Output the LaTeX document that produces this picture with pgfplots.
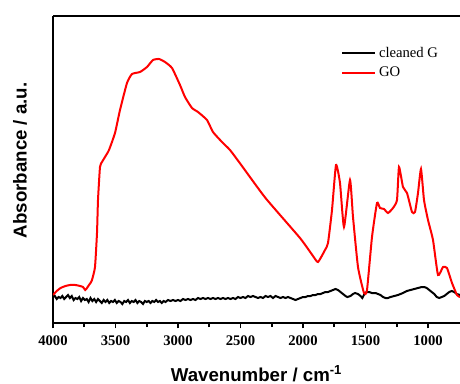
\documentclass[border=0pt]{standalone}
\usepackage{fontspec}
\setmainfont{Liberation Serif}
\setsansfont{Liberation Sans}
\usepackage{pgfplots}
\pgfplotsset{compat=1.18}
\begin{document}
\begin{tikzpicture}
\begin{axis}[
  scale only axis,
  width=305.25pt, height=230.25pt,
  x dir=reverse,
  xmin=744, xmax=4000,
  ymin=0, ymax=307,
  axis x line*=box,
  axis y line*=left,
  axis line style={-, line width=1.5pt},
  xtick={1000,1500,2000,2500,3000,3500,4000},
  minor x tick num=1,
  xtick pos=bottom,
  ytick=\empty,
  tick align=outside,
  major tick length=4pt,
  minor tick length=3pt,
  every tick/.style={line width=1.2pt, black},
  /pgf/number format/1000 sep={},
  /pgf/number format/assume math mode=true,
  xticklabel style={font=\fontsize{11}{11}\selectfont\bfseries, yshift=-2pt},
  xlabel={Wavenumber / cm\textsuperscript{-1}},
  ylabel={Absorbance / a.u.},
  every axis x label/.style={at={(rel axis cs:0.5,0)}, anchor=base, yshift=-43.5pt, font=\fontsize{14}{14}\selectfont\sffamily\bfseries},
  every axis y label/.style={at={(rel axis cs:0,0.53)}, rotate=90, anchor=center, yshift=24.75pt, font=\fontsize{14}{14}\selectfont\sffamily\bfseries},
  legend style={at={(rel axis cs:0.707,0.909)}, anchor=north west, draw=none, fill=none, inner sep=0pt, row sep=2pt, font=\fontsize{11}{12}\selectfont},
  legend cell align=left,
  legend image code/.code={\draw[#1] (0pt,0pt) -- (25pt,0pt);},
]
\addplot[black, line width=1.5pt] coordinates {
(4000,26) (3985,27) (3970,24) (3955,26) (3940,25) (3925,27) (3910,24) (3895,26) (3880,28) (3865,25)
(3850,27) (3835,23) (3820,25) (3805,24) (3790,26) (3775,22) (3760,25) (3745,23) (3730,24) (3715,21)
(3700,25) (3685,22) (3670,24) (3655,21) (3640,24) (3625,22) (3610,20) (3595,23) (3580,21) (3565,23)
(3550,20) (3535,22) (3520,21) (3505,23) (3490,20) (3475,22) (3460,21) (3445,19) (3430,22) (3415,21)
(3400,23) (3385,20) (3370,22) (3355,21) (3340,23) (3325,20) (3310,22) (3295,21) (3280,19) (3265,22)
(3250,21) (3235,22) (3220,20) (3205,22) (3190,21) (3175,23) (3160,21) (3145,22) (3130,20) (3115,22)
(3100,21) (3080,23) (3060,22) (3040,23) (3020,22) (3000,23) (2980,22) (2960,24) (2940,23) (2920,24)
(2900,23) (2880,24) (2860,23) (2840,25) (2820,24) (2800,25) (2780,24) (2760,25) (2740,24) (2720,25)
(2700,24) (2680,25) (2660,24) (2640,25) (2620,24) (2600,25) (2580,24) (2560,25) (2540,24) (2520,26)
(2500,25) (2480,26) (2460,25) (2440,27) (2420,26) (2400,27) (2380,26) (2360,25) (2340,26) (2320,25)
(2300,27) (2280,26) (2260,27) (2240,25) (2220,27) (2200,26) (2180,25) (2160,26) (2140,25) (2120,26)
(2100,25) (2080,24) (2060,23) (2040,24) (2020,25) (2000,26) (1980,26) (1960,27) (1940,27) (1920,28)
(1900,28) (1880,29) (1860,29) (1840,30) (1820,31) (1800,31) (1780,32) (1760,33) (1740,34) (1720,33)
(1700,31) (1680,29) (1660,27) (1645,26) (1620,27) (1600,29) (1584,30) (1560,29) (1540,27) (1525,25)
(1505,30) (1490,31) (1470,31) (1450,30) (1420,30) (1400,29) (1380,28) (1360,26) (1340,25) (1320,25)
(1300,26) (1270,27) (1240,28) (1220,29) (1200,30) (1170,32) (1140,33) (1110,34) (1080,35) (1050,36)
(1030,36) (1010,35) (990,33) (970,31) (950,29) (930,26) (910,25) (890,26) (870,27) (850,29)
(830,31) (810,32) (790,31) (770,29) (744,28)
};
\addlegendentry{cleaned G}
\addplot[red, line width=1.5pt, smooth, tension=0.3] coordinates {
(4000,28) (3970,32) (3940,35) (3900,37) (3864,38) (3820,38) (3784,37) (3760,36) (3742,33) (3728,35)
(3712,38) (3700,40) (3688,43) (3664,56) (3648,90) (3640,123) (3624,156) (3608,161) (3584,166) (3552,173)
(3504,190) (3464,213) (3408,240) (3368,249) (3304,251) (3248,256) (3200,263) (3152,264) (3104,261) (3048,255)
(2984,238) (2944,226) (2888,215) (2840,211) (2768,203) (2720,191) (2648,181) (2584,173) (2500,159) (2300,125)
(2024,85) (1920,67) (1880,61) (1824,73) (1800,80) (1768,113) (1736,158) (1704,140) (1672,96) (1624,143)
(1600,106) (1560,56) (1512,30) (1488,33) (1448,86) (1408,120) (1384,115) (1352,114) (1320,110) (1280,115)
(1248,123) (1232,156) (1200,136) (1168,130) (1128,111) (1104,111) (1080,130) (1056,154) (1032,123) (1000,103)
(960,83) (920,48) (880,56) (848,55) (808,40) (768,28) (744,26)
};
\addlegendentry{GO}
\end{axis}
\pgfresetboundingbox
\path[use as bounding box] (-39.75pt,-45pt) rectangle (305.25pt,242.25pt);
\end{tikzpicture}
\end{document}
